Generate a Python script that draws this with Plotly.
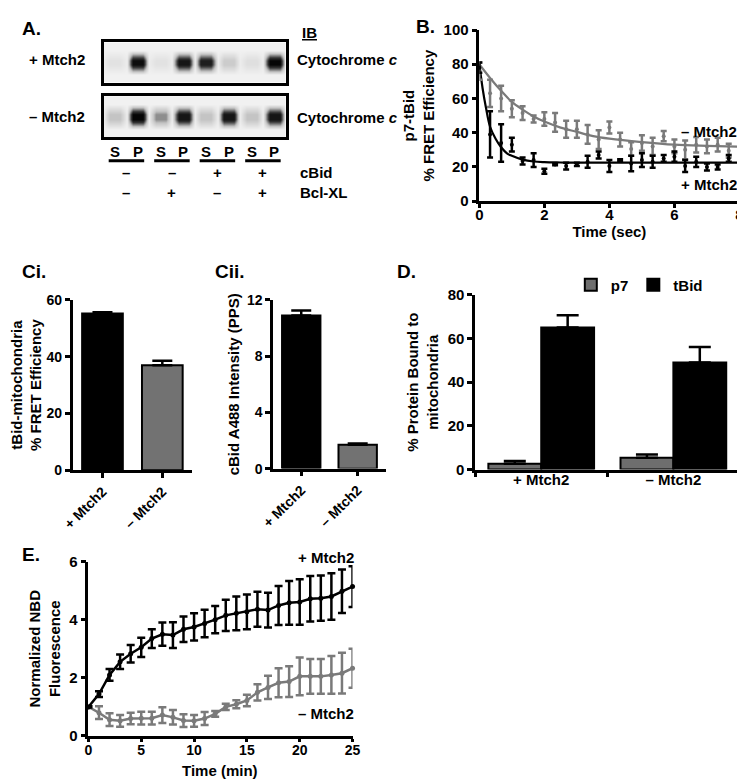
import plotly.graph_objects as go

FONT = "Liberation Sans"
W, H = 745, 779
GRAY = "#7a7a7a"

# ---- panel A: band intensities (0 = empty, 1 = darkest), lanes S,P x4
lanes = ["S", "P", "S", "P", "S", "P", "S", "P"]
blot_plus = [0.1, 0.95, 0.1, 0.9, 0.85, 0.25, 0.12, 1.0]
blot_minus = [0.3, 1.0, 0.45, 0.9, 0.3, 0.9, 0.3, 0.9]
cbid_row = ["–", "–", "+", "+"]
bclxl_row = ["–", "+", "–", "+"]

# ---- panel B: FRET time course (sec)
t_b = [0, 0.33, 0.67, 1, 1.33, 1.67, 2, 2.33, 2.67, 3, 3.33, 3.67,
       4, 4.33, 4.67, 5, 5.33, 5.67, 6, 6.33, 6.67, 7, 7.33, 7.67]
minus_b = [76, 63, 60, 54, 51.5, 48, 48, 46, 42, 42, 39, 36,
           43, 36, 30.5, 34, 32, 38, 32, 30, 33, 32, 33, 29.5]
minus_b_err = [5, 8, 7.5, 5, 4, 2, 4, 5.5, 5, 5, 5.5, 5.5,
               3.5, 4, 4, 4.5, 5, 3, 4, 5.5, 4.5, 4, 4, 4]
plus_b = [78, 39, 34, 33, 23.5, 24, 17.5, 21.5, 20.5, 21.5, 23, 27,
          20.5, 24, 22, 24, 23, 25, 26, 20.5, 23, 20, 20, 25]
plus_b_err = [3, 13.5, 11, 4, 2, 4, 1.5, 0.5, 2, 1, 3.5, 2,
              3.5, 0.5, 4.5, 4, 3.5, 2, 3, 3.5, 3, 2, 1.5, 2]
fit_t_minus = [0, 0.33, 0.67, 1, 1.33, 1.67, 2, 2.5, 3, 3.5, 4, 5, 6, 7, 8]
fit_minus = [80, 72, 64.5, 58, 53.5, 49.5, 46.5, 43, 40.5, 38, 36.5, 34.5, 33, 32.3, 31.8]
fit_t_plus = [0, 0.1, 0.2, 0.33, 0.5, 0.67, 0.85, 1, 1.33, 1.67, 2, 2.5, 3, 8]
fit_plus = [80, 66, 55, 43.5, 36.5, 31.5, 28, 26.5, 24.3, 23.2, 22.8, 22.6, 22.5, 22.5]

# ---- panels Ci / Cii
c_cats = ["+ Mtch2", "– Mtch2"]
ci_vals = [55.2, 37.0]
ci_err = [0.5, 1.6]
cii_vals = [10.9, 1.7]
cii_err = [0.35, 0.08]

# ---- panel D
d_groups = ["+ Mtch2", "– Mtch2"]
p7_vals = [2.7, 5.4]
p7_err = [1.2, 1.5]
tbid_vals = [65.0, 49.0]
tbid_err = [5.6, 7.1]

# ---- panel E: NBD fluorescence (min)
t_e = [0, 1, 2, 3, 4, 5, 6, 7, 8, 9, 10, 11, 12, 13, 14, 15, 16, 17, 18,
       19, 20, 21, 22, 23, 24, 25]
plus_e = [1.0, 1.44, 2.1, 2.55, 2.83, 3.05, 3.35, 3.5, 3.47, 3.67, 3.75, 3.87, 4.0,
          4.15, 4.22, 4.27, 4.36, 4.33, 4.49, 4.58, 4.61, 4.72, 4.74, 4.8, 4.98, 5.14]
plus_e_err = [0.02, 0.1, 0.2, 0.25, 0.3, 0.33, 0.32, 0.4, 0.44, 0.44, 0.47, 0.47, 0.47,
              0.54, 0.58, 0.6, 0.6, 0.6, 0.67, 0.75, 0.78, 0.78, 0.78, 0.8, 0.75, 0.7]
minus_e = [1.0, 0.8, 0.56, 0.52, 0.6, 0.61, 0.61, 0.72, 0.64, 0.53, 0.52, 0.6, 0.76,
           1.0, 1.09, 1.22, 1.5, 1.67, 1.83, 1.87, 2.05, 2.05, 2.05, 2.1, 2.16, 2.33]
minus_e_err = [0.02, 0.22, 0.22, 0.2, 0.2, 0.22, 0.22, 0.27, 0.25, 0.22, 0.2, 0.22, 0.1,
               0.11, 0.14, 0.2, 0.28, 0.4, 0.5, 0.53, 0.65, 0.6, 0.6, 0.65, 0.7, 0.67]


def px(x):
    return x / W


def py(y):
    return 1 - y / H


def bold(size, color="black"):
    return dict(family=FONT, size=size, color=color, weight="bold")


def axis(domain, anchor, rng=None, **kw):
    d = dict(domain=domain, anchor=anchor, showline=True, linecolor="black",
             linewidth=2.5, ticks="outside", ticklen=5, tickwidth=2.5,
             tickcolor="black", showgrid=False, zeroline=False,
             tickfont=bold(15), fixedrange=True)
    if rng is not None:
        d["range"] = rng
    d.update(kw)
    return d


def blot_grid(vals):
    # columns: gap / band / band for every lane, rows: bg / band / bg
    xs, row = [], []
    for i, v in enumerate(vals):
        xs += [i - 0.5, i - 0.22, i + 0.22]
        row += [0.03, v, v]
    xs.append(len(vals) - 0.5)
    row.append(0.03)
    ys = [-1, -0.6, -0.12, 0.12, 0.6, 1]
    bg = [0] * len(row)
    z = [bg, bg, row, row, bg, bg]
    return xs, ys, z


fig = go.Figure()

blot_scale = [[0, "#f1f1f1"], [0.3, "#c4c4c4"], [0.7, "#353535"], [1, "#050505"]]
for vals, xa, ya in [(blot_plus, "x", "y"), (blot_minus, "x2", "y2")]:
    bx, by, bz = blot_grid(vals)
    fig.add_trace(go.Heatmap(x=bx, y=by, z=bz, zmin=0, zmax=1, zsmooth="best",
                             colorscale=blot_scale, showscale=False,
                             hoverinfo="skip", xaxis=xa, yaxis=ya))

# panel B
fig.add_trace(go.Scatter(x=fit_t_minus, y=fit_minus, mode="lines", line_shape="spline",
                         line=dict(color=GRAY, width=2.2), showlegend=False,
                         xaxis="x3", yaxis="y3"))
fig.add_trace(go.Scatter(x=fit_t_plus, y=fit_plus, mode="lines", line_shape="spline",
                         line=dict(color="black", width=2.2), showlegend=False,
                         xaxis="x3", yaxis="y3"))
fig.add_trace(go.Scatter(x=t_b, y=minus_b, mode="markers", cliponaxis=False,
                         marker=dict(color=GRAY, size=4),
                         error_y=dict(array=minus_b_err, color=GRAY, thickness=2.5, width=3),
                         showlegend=False, xaxis="x3", yaxis="y3"))
fig.add_trace(go.Scatter(x=t_b, y=plus_b, mode="markers", cliponaxis=False,
                         marker=dict(color="black", size=4),
                         error_y=dict(array=plus_b_err, color="black", thickness=2.5, width=3),
                         showlegend=False, xaxis="x3", yaxis="y3"))

# panel Ci / Cii
for vals, err, xa, ya in [(ci_vals, ci_err, "x4", "y4"), (cii_vals, cii_err, "x5", "y5")]:
    fig.add_trace(go.Bar(x=c_cats, y=vals, width=0.68,
                         marker=dict(color=["black", "#727272"], line=dict(color="black", width=2)),
                         error_y=dict(array=err, arrayminus=[0, 0], symmetric=False,
                                      color="black", thickness=2.5, width=10),
                         showlegend=False, xaxis=xa, yaxis=ya))

# panel D
fig.add_trace(go.Bar(x=d_groups, y=p7_vals, name="p7",
                     marker=dict(color="#6e6e6e", line=dict(color="black", width=2)),
                     error_y=dict(array=p7_err, arrayminus=[0, 0], symmetric=False,
                                  color="black", thickness=2.5, width=11),
                     xaxis="x6", yaxis="y6"))
fig.add_trace(go.Bar(x=d_groups, y=tbid_vals, name="tBid",
                     marker=dict(color="black", line=dict(color="black", width=2)),
                     error_y=dict(array=tbid_err, arrayminus=[0, 0], symmetric=False,
                                  color="black", thickness=2.5, width=11),
                     xaxis="x6", yaxis="y6"))

# panel E
fig.add_trace(go.Scatter(x=t_e, y=minus_e, mode="lines+markers", cliponaxis=False,
                         line=dict(color=GRAY, width=2.5), marker=dict(color=GRAY, size=5),
                         error_y=dict(array=minus_e_err, color=GRAY, thickness=2.5, width=4),
                         showlegend=False, xaxis="x7", yaxis="y7"))
fig.add_trace(go.Scatter(x=t_e, y=plus_e, mode="lines+markers", cliponaxis=False,
                         line=dict(color="black", width=2.5), marker=dict(color="black", size=5),
                         error_y=dict(array=plus_e_err, color="black", thickness=2.5, width=4),
                         showlegend=False, xaxis="x7", yaxis="y7"))

blot_ax = dict(showline=True, mirror=True, linecolor="black", linewidth=3,
               showgrid=False, zeroline=False, ticks="", showticklabels=False,
               fixedrange=True)

fig.update_layout(
    width=W, height=H, margin=dict(l=0, r=0, t=0, b=0),
    paper_bgcolor="white", plot_bgcolor="white",
    font=dict(family=FONT, color="black"),
    barmode="group", bargap=0.2, bargroupgap=0,
    showlegend=True,
    legend=dict(orientation="h", x=px(566), y=py(274), xanchor="left", yanchor="middle",
                font=bold(15), itemwidth=30, bgcolor="rgba(0,0,0,0)"),
    xaxis=dict(blot_ax, domain=[px(86), px(273)], anchor="y", range=[-0.5, 7.5]),
    yaxis=dict(blot_ax, domain=[py(67), py(26)], anchor="x", range=[-1, 1]),
    xaxis2=dict(blot_ax, domain=[px(86), px(273)], anchor="y2", range=[-0.5, 7.5]),
    yaxis2=dict(blot_ax, domain=[py(123), py(81)], anchor="x2", range=[-1, 1]),
    xaxis3=axis([px(472), px(739.3)], "y3", [0, 8], tickvals=[0, 2, 4, 6, 8],
                ticklen=4, ticklabelstandoff=-6,
                title=dict(text="Time (sec)", font=bold(15), standoff=2)),
    yaxis3=axis([py(188.3), py(13.3)], "x3", [0, 100], tickvals=[0, 20, 40, 60, 80, 100],
                title=dict(text="p7-tBid<br>% FRET Efficiency", font=bold(15), standoff=6)),
    xaxis4=axis([px(54), px(177)], "y4", [-0.5, 1.5], tickangle=-45, tickfont=bold(14)),
    yaxis4=axis([py(463.3), py(289.3)], "x4", [0, 60], tickvals=[0, 20, 40, 60],
                tickfont=bold(14),
                title=dict(text="tBid-mitochondria<br>% FRET Efficiency", font=bold(15), standoff=4)),
    xaxis5=axis([px(260), px(376)], "y5", [-0.5, 1.5], tickangle=-45, tickfont=bold(14)),
    yaxis5=axis([py(461.7), py(289.3)], "x5", [0, 12], tickvals=[0, 4, 8, 12],
                tickfont=bold(14),
                title=dict(text="cBid A488 Intensity (PPS)", font=bold(15), standoff=4)),
    xaxis6=axis([px(467.7), px(739.3)], "y6", [-0.5, 1.5], tickson="boundaries",
                ticklabelstandoff=-5),
    yaxis6=axis([py(462.7), py(284)], "x6", [0, 80], tickvals=[0, 20, 40, 60, 80],
                title=dict(text="% Protein Bound to<br>mitochondria", font=bold(15), standoff=6)),
    xaxis7=axis([px(70.3), px(341.7)], "y7", [0, 25], tickvals=[0, 5, 10, 15, 20, 25],
                ticklen=3, ticklabelstandoff=-4, tickfont=bold(14)),
    yaxis7=axis([py(735), py(556.7)], "x7", [0, 6], tickvals=[0, 2, 4, 6],
                title=dict(text="Normalized NBD<br>Fluorescence", font=bold(15), standoff=6)),
)

ann = []


def note(text, x, y, size=15, xanchor="left", xref="paper"):
    ann.append(dict(text=text, x=x if xref != "paper" else px(x), y=py(y), xref=xref,
                    yref="paper", xanchor=xanchor, yanchor="middle", showarrow=False,
                    font=bold(size)))


for lbl, x, y in [("A.", 0, 12), ("B.", 405, 10), ("Ci.", 0, 260), ("Cii.", 198, 260),
                  ("D.", 385, 260), ("E.", 0, 549)]:
    note(lbl, x, y, size=19)

note("<u>IB</u>", 297, 16, xanchor="center")
note("+ Mtch2", 69, 43, xanchor="right")
note("– Mtch2", 69, 102, xanchor="right")
note("Cytochrome <i>c</i>", 283, 43)
note("Cytochrome <i>c</i>", 283, 103)
note("cBid", 286, 159)
note("Bcl-XL", 286, 179)
for i, lane in enumerate(lanes):
    note(lane, i, 137, xanchor="center", xref="x2")
for k in range(4):
    note(cbid_row[k], 2 * k + 0.5, 159, xanchor="center", xref="x2")
    note(bclxl_row[k], 2 * k + 0.5, 179, xanchor="center", xref="x2")

note("– Mtch2", 739, 117, xanchor="right")
note("+ Mtch2", 739, 171, xanchor="right")
note("+ Mtch2", 345, 553, xanchor="right")
note("– Mtch2", 345, 712, xanchor="right")
note("Time (min)", 206, 770, xanchor="center")

fig.update_layout(annotations=ann)

for k in range(4):
    fig.add_shape(type="line", xref="x2", yref="paper", x0=2 * k - 0.28, x1=2 * k + 1.28,
                  y0=py(147), y1=py(147), line=dict(color="black", width=3))

fig.write_html("out.html")
